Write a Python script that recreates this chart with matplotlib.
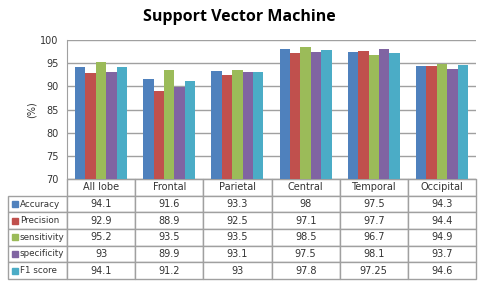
import matplotlib
matplotlib.use("Agg")
import matplotlib.pyplot as plt
import numpy as np
from matplotlib.patches import Rectangle

categories = ["All lobe", "Frontal", "Parietal", "Central", "Temporal", "Occipital"]
metrics = ["Accuracy", "Precision", "sensitivity", "specificity", "F1 score"]
accuracy = [94.1, 91.6, 93.3, 98, 97.5, 94.3]
precision = [92.9, 88.9, 92.5, 97.1, 97.7, 94.4]
sensitivity = [95.2, 93.5, 93.5, 98.5, 96.7, 94.9]
specificity = [93, 89.9, 93.1, 97.5, 98.1, 93.7]
f1_score = [94.1, 91.2, 93, 97.8, 97.25, 94.6]
series = [accuracy, precision, sensitivity, specificity, f1_score]
colors = ["#4F81BD", "#C0504D", "#9BBB59", "#8064A2", "#4BACC6"]

W, H = 480, 283
fig = plt.figure(figsize=(W / 100, H / 100), dpi=100)
ax = fig.add_axes([67 / W, 1 - 179 / H, 409 / W, 139 / H])

x = np.arange(len(categories))
bw = 0.153
for i, vals in enumerate(series):
    ax.bar(x + (i - 2) * bw, np.array(vals) - 70, bottom=70, width=bw,
           color=colors[i], zorder=3)

ax.set_xlim(-0.5, len(categories) - 0.5)
ax.set_ylim(70, 100)
ax.set_yticks(range(70, 101, 5))
ax.set_xticks([])
ax.yaxis.grid(True, color="#A0A0A0", linewidth=1)
ax.tick_params(axis="y", length=0, labelsize=7, colors="#333333", pad=6)
for s in ["top", "right"]:
    ax.spines[s].set_visible(False)
ax.spines["left"].set_color("#A0A0A0")
ax.spines["bottom"].set_color("#A0A0A0")
ax.set_ylabel("(%)", fontsize=7, color="#333333", labelpad=3)

fig.text(239 / W, 1 - 17 / H, "Support Vector Machine", ha="center", va="center",
         fontsize=11.5, fontweight="bold", family="Open Sans")

# data table
cell_text = [[m] + [("%g" % v) for v in vals] for m, vals in zip(metrics, series)]
col_labels = [""] + categories
axw = 409.0
tbl = ax.table(cellText=cell_text, colLabels=col_labels,
               colWidths=[59 / 468] + [68 / 468] * 6,
               cellLoc="center",
               bbox=[(8 - 67) / axw, -100 / 139, 468 / axw, 100 / 139])
tbl.auto_set_font_size(False)
tbl.set_fontsize(7)
for (r, c), cell in tbl.get_celld().items():
    cell.set_edgecolor("#A0A0A0")
    cell.set_linewidth(1)
    cell.get_text().set_color("#333333")
    if r == 0 and c == 0:
        cell.visible_edges = ""
    if c == 0 and r > 0:
        cell.get_text().set_fontsize(6.3)
        cell.get_text().set_ha("left")
        cell.PAD = 0.2

# legend keys in the row label column
row_h = 100 / 6
for i, col in enumerate(colors):
    yc = 179 + row_h * (i + 1.5)
    fig.patches.append(Rectangle((12 / W, 1 - (yc + 3) / H), 6 / W, 6 / H,
                                 transform=fig.transFigure, color=col, figure=fig))

fig.savefig("out.png", dpi=100)
